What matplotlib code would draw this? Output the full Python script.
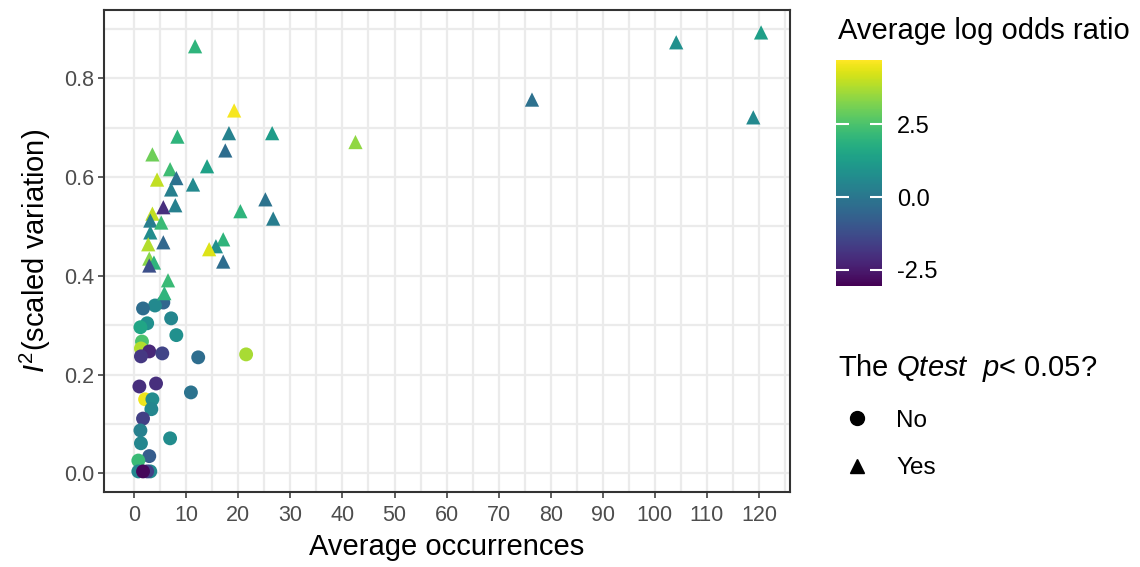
import matplotlib
matplotlib.use('Agg')
import matplotlib.pyplot as plt
from matplotlib.lines import Line2D
import numpy as np

plt.rcParams['font.family'] = ['Liberation Sans', 'DejaVu Sans']
plt.rcParams['mathtext.fontset'] = 'custom'
plt.rcParams['mathtext.rm'] = 'Liberation Sans'
plt.rcParams['mathtext.it'] = 'Liberation Sans:italic'

# Q test not significant (circles)
no_occ = [5.6, 4.0, 1.7, 7.1, 2.5, 1.2, 8.1, 1.5, 1.3, 2.9, 5.4, 1.3, 12.3, 1.0, 4.2,
          21.5, 10.9, 6.9, 2.1, 3.5, 3.3, 1.7, 1.2, 1.3, 2.9, 0.8, 0.8, 3.1, 2.5, 1.7]
no_i2 = [0.346, 0.340, 0.334, 0.314, 0.304, 0.296, 0.280, 0.267, 0.253, 0.247, 0.243, 0.237,
         0.235, 0.176, 0.182, 0.241, 0.164, 0.071, 0.150, 0.150, 0.130, 0.111, 0.087, 0.061,
         0.035, 0.026, 0.004, 0.004, 0.004, 0.004]
no_lor = [-0.5, 0.6, -0.3, 0.5, 0.8, 1.5, 0.8, 2.5, 3.8, -2.2, -1.5, -1.8, -0.3, -2.0, -2.0,
          3.7, -0.1, 0.7, 4.5, 0.7, 0.5, -1.6, 0.3, 0.5, -0.8, 2.2, 0.5, 0.6, -1.6, -2.9]

# Q test significant (triangles)
yes_occ = [11.7, 19.2, 104.1, 120.4, 76.4, 118.9, 42.5, 14.0, 18.2, 26.5, 17.5, 25.2, 20.4,
           26.7, 17.1, 15.7, 14.4, 17.1, 8.3, 3.5, 6.9, 8.1, 4.4, 7.1, 11.3, 5.6, 7.9, 3.5,
           3.1, 5.2, 3.1, 2.7, 5.6, 2.9, 3.8, 2.9, 6.5, 5.8]
yes_i2 = [0.865, 0.735, 0.873, 0.893, 0.757, 0.721, 0.671, 0.622, 0.689, 0.689, 0.654, 0.555,
          0.531, 0.516, 0.474, 0.460, 0.454, 0.429, 0.682, 0.646, 0.616, 0.598, 0.595, 0.575,
          0.585, 0.539, 0.543, 0.526, 0.512, 0.508, 0.488, 0.464, 0.468, 0.435, 0.427, 0.421,
          0.391, 0.365]
yes_lor = [2.0, 4.6, 0.8, 1.3, -0.2, 0.6, 3.4, 1.4, 0.4, 1.2, -0.3, -0.1, 2.0, 0.2, 2.0, 0.8,
           4.3, -0.3, 2.0, 3.0, 2.3, -0.2, 4.0, 0.3, 0.6, -2.0, 0.3, 4.0, 0.2, 2.2, 0.7, 3.8,
           -0.5, 3.3, 2.0, -1.2, 2.2, 2.0]

VMIN, VMAX = -3.05, 4.7

fig = plt.figure(figsize=(11.4, 5.67), dpi=100)
ax = fig.add_axes([0.0912, 0.132, 0.602, 0.850])

sc = ax.scatter(no_occ, no_i2, c=no_lor, cmap='viridis', vmin=VMIN, vmax=VMAX,
                marker='o', s=100, linewidths=0, zorder=3)
ax.scatter(yes_occ, yes_i2, c=yes_lor, cmap='viridis', vmin=VMIN, vmax=VMAX,
           marker='^', s=105, linewidths=0, zorder=3)

ax.set_xlim(-5.8, 126.0)
ax.set_ylim(-0.038, 0.938)
ax.set_xticks(np.arange(0, 121, 10))
ax.set_xticks(np.arange(5, 126, 10), minor=True)
ax.set_yticks(np.arange(0, 0.81, 0.2))
ax.set_yticks(np.arange(0.1, 0.91, 0.2), minor=True)
ax.set_yticklabels(['0.0', '0.2', '0.4', '0.6', '0.8'])
ax.grid(True, which='major', color='#ebebeb', linewidth=1.6)
ax.grid(True, which='minor', color='#ebebeb', linewidth=1.6)
ax.set_axisbelow(True)
for s in ax.spines.values():
    s.set_color('#333333')
    s.set_linewidth(1.5)
ax.tick_params(which='major', direction='out', length=4, width=1.1, color='#333333',
               labelsize=15.5, labelcolor='#4d4d4d')
ax.tick_params(axis='y', pad=3)
ax.tick_params(axis='x', pad=5)
ax.tick_params(which='minor', length=0)

ax.set_xlabel('Average occurrences', fontsize=21, labelpad=5)
ax.set_ylabel(r'$\mathit{I}^2$(scaled variation)', fontsize=21, labelpad=8)

# colour bar
cax = fig.add_axes([836 / 1140, 1 - 286 / 567, 46 / 1140, 226 / 567])
cb = fig.colorbar(sc, cax=cax, ticks=[-2.5, 0.0, 2.5])
cb.outline.set_visible(False)
cb.ax.set_yticklabels(['-2.5', '0.0', '2.5'])
cb.ax.tick_params(left=True, right=True, labelleft=False, labelright=True,
                  direction='in', color='white', length=9, width=1.5,
                  labelsize=17, pad=11)
fig.text(838 / 1140, 1 - 31 / 567, 'Average log odds ratio', fontsize=21,
         ha='left', va='center')

# shape legend
handles = [Line2D([], [], marker='o', color='black', linestyle='', markersize=10),
           Line2D([], [], marker='^', color='black', linestyle='', markersize=10)]
fig.legend(handles, ['No', 'Yes'], loc='upper left',
           bbox_to_anchor=(838 / 1140, 1 - 352 / 567), frameon=False,
           title=r'The $\mathit{Qtest}$  $\mathit{p}$< 0.05?', title_fontsize=21,
           fontsize=17.5, alignment='left', handletextpad=0.8, handlelength=1.6,
           labelspacing=1.05, borderaxespad=0, borderpad=0)

plt.savefig('out.png', dpi=100)
plt.close()
